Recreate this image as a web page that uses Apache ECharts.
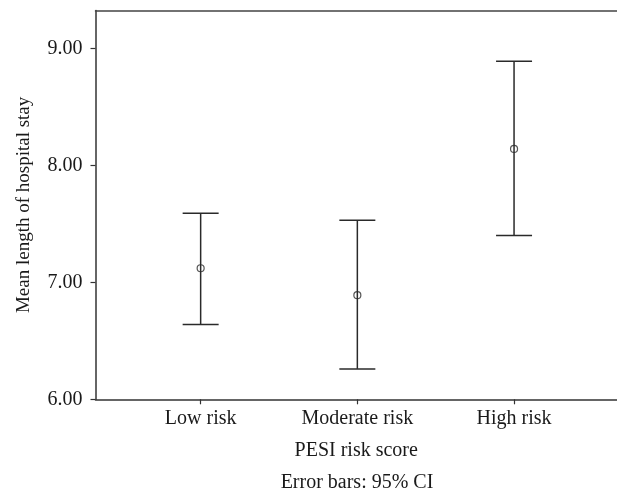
<!DOCTYPE html>
<html>
<head>
<meta charset="utf-8">
<script src="https://cdn.jsdelivr.net/npm/echarts@6/dist/echarts.min.js"></script>
<style>
html,body{margin:0;padding:0;background:#fff;}
#chart{width:617px;height:495px;}
</style>
</head>
<body>
<div id="chart"></div>
<script>
var categories = ['Low risk', 'Moderate risk', 'High risk'];
var categoryPositions = [1, 2, 3];
var means = [7.12, 6.89, 8.14];
var ciLow = [6.64, 6.26, 7.40];
var ciHigh = [7.59, 7.53, 8.89];
var yTicks = [6, 7, 8, 9];

var FONT = '"Liberation Serif", "Times New Roman", serif';
var TXT = '#1a1a1a';
var LINE = '#2a2a2a';

var errData = categoryPositions.map(function (x, i) { return [x, ciLow[i], ciHigh[i]]; });
var meanData = categoryPositions.map(function (x, i) { return [x, means[i]]; });

var chart = echarts.init(document.getElementById('chart'), null, { renderer: 'canvas' });
chart.setOption({
  animation: false,
  backgroundColor: '#fff',
  title: {
    text: 'Error bars: 95% CI',
    left: 357,
    top: 473,
    textAlign: 'center',
    padding: 0,
    textStyle: { fontFamily: FONT, fontSize: 20, fontWeight: 'normal', color: TXT }
  },
  grid: {
    left: 95.5, right: 0, top: 10.5, bottom: 95.7,
    show: false
  },
  xAxis: [{
    type: 'value',
    min: 0.329,
    max: 3.657,
    name: 'PESI risk score',
    nameLocation: 'middle',
    nameGap: 41,
    nameTextStyle: { fontFamily: FONT, fontSize: 20, color: TXT, padding: [0, 0, 0, 0] },
    axisLine: { show: true, onZero: false, lineStyle: { color: '#333', width: 1.5 } },
    axisTick: { show: true, length: 5, customValues: categoryPositions, lineStyle: { color: '#333', width: 1.2 } },
    axisLabel: {
      customValues: categoryPositions,
      margin: 9,
      fontFamily: FONT, fontSize: 20, color: TXT,
      formatter: function (v) {
        var i = categoryPositions.indexOf(Math.round(v));
        return i >= 0 ? categories[i] : '';
      }
    },
    splitLine: { show: false }
  }, {
    type: 'value',
    position: 'top',
    min: 0.329,
    max: 3.657,
    axisLine: { show: true, onZero: false, lineStyle: { color: '#444', width: 1.5 } },
    axisTick: { show: false },
    axisLabel: { show: false },
    splitLine: { show: false }
  }],
  yAxis: {
    type: 'value',
    min: 6,
    max: 9.323,
    name: 'Mean length of hospital stay',
    nameLocation: 'middle',
    nameGap: 62,
    nameTextStyle: { fontFamily: FONT, fontSize: 19, color: TXT },
    axisLine: { show: true, onZero: false, lineStyle: { color: '#333', width: 1.5 } },
    axisTick: { show: true, length: 5, customValues: yTicks, lineStyle: { color: '#333', width: 1.2 } },
    axisLabel: {
      customValues: yTicks,
      margin: 13,
      fontFamily: FONT, fontSize: 20, color: TXT,
      formatter: function (v) { return Number(v).toFixed(2); }
    },
    splitLine: { show: false }
  },
  series: [
    {
      type: 'custom',
      data: errData,
      encode: { x: 0, y: [1, 2] },
      z: 2,
      renderItem: function (params, api) {
        var x = api.value(0);
        var lo = api.coord([x, api.value(1)]);
        var hi = api.coord([x, api.value(2)]);
        var hw = 18;
        var st = { stroke: LINE, lineWidth: 1.5, fill: null };
        return {
          type: 'group',
          children: [
            { type: 'line', shape: { x1: hi[0], y1: hi[1], x2: lo[0], y2: lo[1] }, style: st },
            { type: 'line', shape: { x1: hi[0] - hw, y1: hi[1], x2: hi[0] + hw, y2: hi[1] }, style: st },
            { type: 'line', shape: { x1: lo[0] - hw, y1: lo[1], x2: lo[0] + hw, y2: lo[1] }, style: st }
          ]
        };
      }
    },
    {
      type: 'scatter',
      data: meanData,
      symbol: 'circle',
      symbolSize: 7,
      z: 3,
      itemStyle: { color: 'rgba(255,255,255,0)', borderColor: LINE, borderWidth: 1.2 }
    }
  ]
});
</script>
</body>
</html>
